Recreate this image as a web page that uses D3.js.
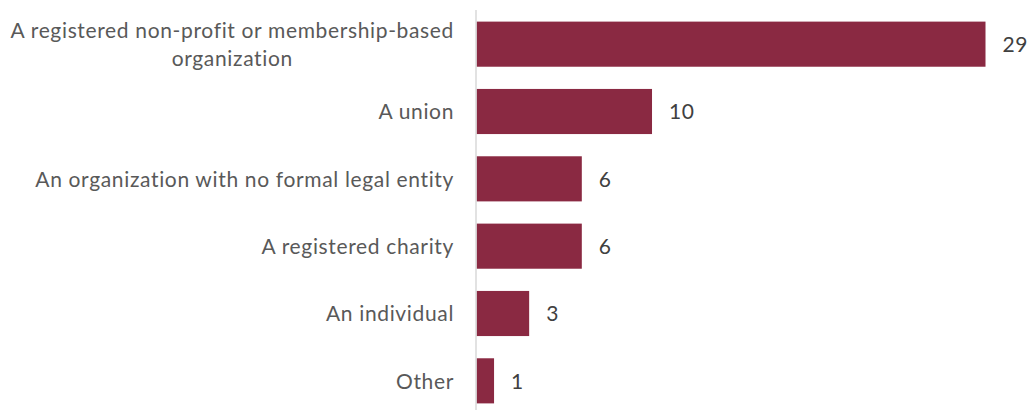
<!DOCTYPE html>
<html>
<head>
<meta charset="utf-8">
<script src="https://cdn.jsdelivr.net/npm/d3@7"></script>
<style>
  html, body { margin: 0; padding: 0; background: #fff; }
  svg { display: block; }
  text { font-family: Lato, "Open Sans", sans-serif; }
</style>
</head>
<body>
<svg id="chart" width="1029" height="410"></svg>
<script>
// Respondent types and their counts
const categories = [
  ["A registered non-profit or membership-based", "organization"],
  ["A union"],
  ["An organization with no formal legal entity"],
  ["A registered charity"],
  ["An individual"],
  ["Other"]
];
const values = [29, 10, 6, 6, 3, 1];

const width = 1029, height = 410;
const axisX = 476;
const svg = d3.select("#chart");

const keys = categories.map((c, i) => i);
const y = d3.scaleBand()
  .domain(keys)
  .range([10.5, 414.5])
  .paddingInner(0.33)
  .paddingOuter(0.165);

const x = d3.scaleLinear()
  .domain([0, 29])
  .range([axisX + 0.5, 985.5]);

const barColor = "#8A2942";

// bars
svg.append("g")
  .selectAll("rect")
  .data(values)
  .join("rect")
  .attr("x", x(0))
  .attr("y", (d, i) => y(i))
  .attr("width", d => x(d) - x(0))
  .attr("height", y.bandwidth())
  .attr("fill", barColor);

// vertical category axis line
svg.append("line")
  .attr("x1", axisX).attr("x2", axisX)
  .attr("y1", 10).attr("y2", height)
  .attr("stroke", "#d9d9d9")
  .attr("stroke-width", 1.5);

// category labels (multi-line labels are centred on one another)
const labelSize = 21;
const spacing = 0.65;
const lineGap = 27.5;
const labels = svg.append("g")
  .attr("font-size", labelSize)
  .attr("letter-spacing", spacing)
  .attr("fill", "#595959");

categories.forEach((lines, i) => {
  const cy = y(i) + y.bandwidth() / 2;
  const t = labels.append("text")
    .attr("text-anchor", lines.length > 1 ? "middle" : "end");
  const tx = axisX - 22;
  lines.forEach((line, j) => {
    t.append("tspan")
      .attr("x", tx)
      .attr("y", cy + (j - (lines.length - 1) / 2) * lineGap)
      .attr("dy", "0.37em")
      .text(line);
  });
  if (lines.length > 1) {
    const w = t.node().getBBox().width;
    t.selectAll("tspan").attr("x", tx - w / 2);
  }
});

// value labels
svg.append("g")
  .attr("font-size", labelSize)
  .attr("letter-spacing", spacing)
  .attr("fill", "#404040")
  .selectAll("text")
  .data(values)
  .join("text")
  .attr("x", d => x(d) + 17)
  .attr("y", (d, i) => y(i) + y.bandwidth() / 2)
  .attr("dy", "0.37em")
  .text(d => d);
</script>
</body>
</html>
